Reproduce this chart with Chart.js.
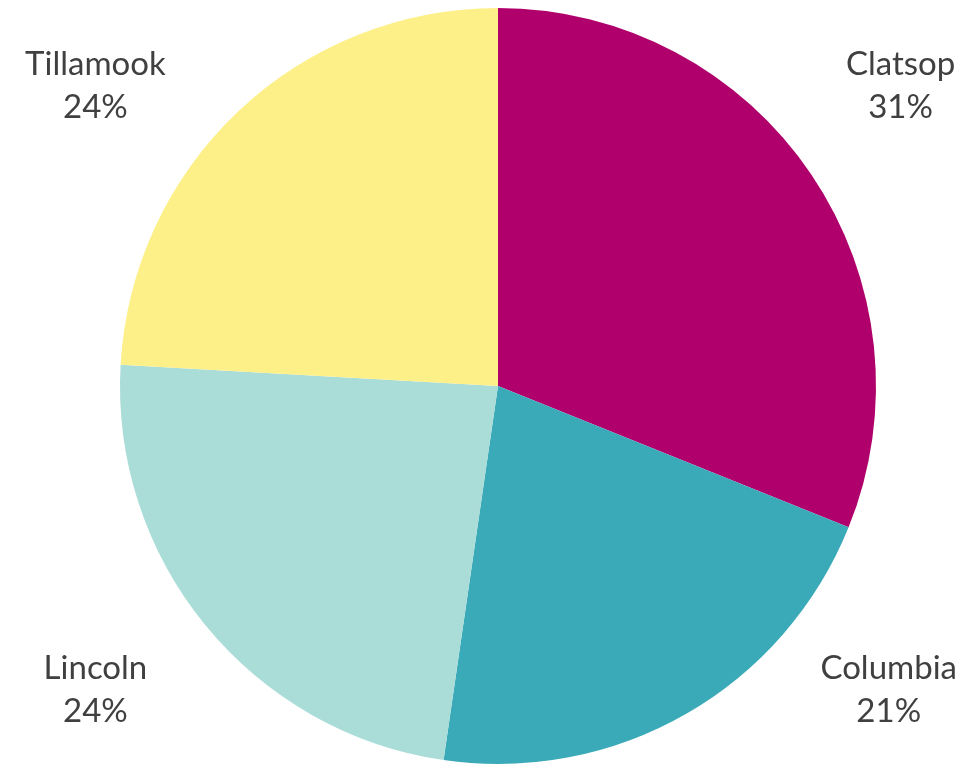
<!DOCTYPE html>
<html>
<head>
<meta charset="utf-8">
<script src="https://cdn.jsdelivr.net/npm/chart.js@4"></script>
<style>
  html, body { margin: 0; padding: 0; background: #fff; }
  #wrap { width: 967px; height: 765px; }
</style>
</head>
<body>
<div id="wrap"><canvas id="myChart"></canvas></div>
<script>
const counties = ["Clatsop", "Columbia", "Lincoln", "Tillamook"];
const shares = [31.1, 21.2, 23.6, 24.1];
const sliceColors = ["#B0006B", "#3AAAB8", "#ABDDD8", "#FEF089"];

// draws "name / pct%" outside each slice, pushed to the corner of its quadrant
const cornerLabels = {
  id: "cornerLabels",
  afterDatasetsDraw(chart) {
    const ctx = chart.ctx;
    const meta = chart.getDatasetMeta(0);
    const total = shares.reduce((a, b) => a + b, 0);
    ctx.save();
    ctx.fillStyle = "#404040";
    ctx.font = "33px Lato";
    ctx.textAlign = "center";
    ctx.textBaseline = "alphabetic";
    meta.data.forEach((arc, i) => {
      const p = arc.getProps(["x", "y", "startAngle", "endAngle", "outerRadius"], true);
      const mid = (p.startAngle + p.endAngle) / 2;
      const sx = Math.cos(mid) >= 0 ? 1 : -1;
      const sy = Math.sin(mid) >= 0 ? 1 : -1;
      let cx = p.x + sx * p.outerRadius * 1.065;
      const cy = p.y + sy * p.outerRadius * 0.8;
      // keep the label block inside the canvas
      const half = ctx.measureText(counties[i]).width / 2;
      cx = Math.min(cx, chart.width - 10 - half);
      cx = Math.max(cx, 18 + half);
      const pct = Math.round(shares[i] / total * 100) + "%";
      ctx.fillText(counties[i], cx, cy - 9);
      ctx.fillText(pct, cx, cy + 34);
    });
    ctx.restore();
  },
};

const config = {
  type: "pie",
  data: {
    labels: counties,
    datasets: [
      {
        data: shares,
        backgroundColor: sliceColors,
        borderWidth: 0,
      },
    ],
  },
  options: {
    responsive: true,
    maintainAspectRatio: false,
    animation: false,
    layout: {
      padding: { left: 120, right: 91, top: 8, bottom: 1 },
    },
    plugins: {
      legend: { display: false },
      tooltip: { enabled: false },
    },
  },
  plugins: [cornerLabels],
};

let myChart = new Chart(document.getElementById("myChart"), config);
</script>
</body>
</html>
